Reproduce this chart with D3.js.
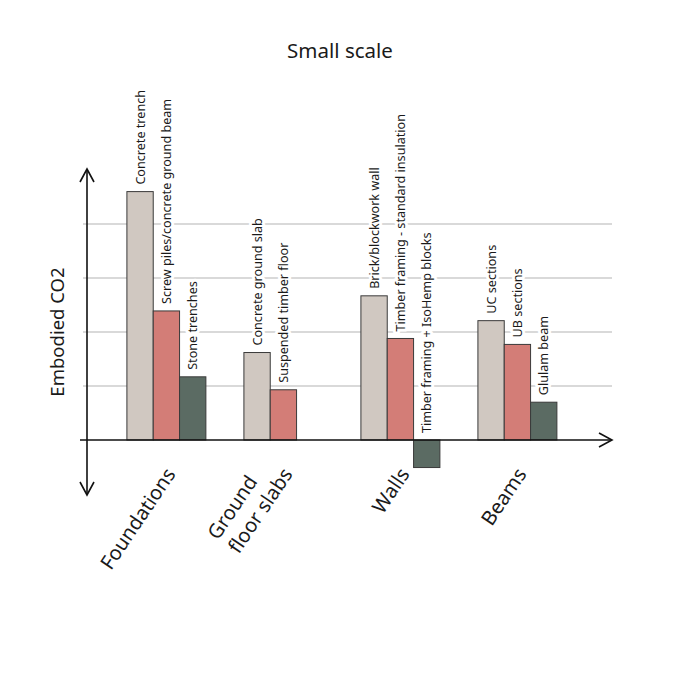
<!DOCTYPE html>
<html>
<head>
<meta charset="utf-8">
<script src="https://cdn.jsdelivr.net/npm/d3@7"></script>
<style>
  html, body { margin: 0; padding: 0; background: #fff; }
  svg { display: block; }
  text { font-family: "Noto Sans", "Open Sans", sans-serif; fill: #1a1a1a; }
</style>
</head>
<body>
<svg id="chart" width="680" height="680"></svg>
<script>
// ---- data ----
const title = "Small scale";
const yAxisLabel = "Embodied CO2";
const categories = ["Foundations", "Ground floor slabs", "Walls", "Beams"];
const categoryLines = [["Foundations"], ["Ground", "floor slabs"], ["Walls"], ["Beams"]];
const foundationsLabels = ["Concrete trench", "Screw piles/concrete ground beam", "Stone trenches"];
const foundationsValues = [4.6, 2.39, 1.17];
const slabsLabels = ["Concrete ground slab", "Suspended timber floor"];
const slabsValues = [1.62, 0.93];
const wallsLabels = ["Brick/blockwork wall", "Timber framing - standard insulation", "Timber framing + IsoHemp blocks"];
const wallsValues = [2.67, 1.88, -0.51];
const beamsLabels = ["UC sections", "UB sections", "Glulam beam"];
const beamsValues = [2.21, 1.77, 0.70];
const gridValues = [1, 2, 3, 4];
const slotColors = ["#d0c8c1", "#d37d77", "#5b6b63"];

const groupLabels = [foundationsLabels, slabsLabels, wallsLabels, beamsLabels];
const groupValues = [foundationsValues, slabsValues, wallsValues, beamsValues];

// ---- layout ----
const svg = d3.select("#chart");
const xLeft = 87, xRight = 612;

const x = d3.scaleBand()
  .domain(categories)
  .range([xLeft, xRight])
  .paddingInner(0.325)
  .paddingOuter(0.406)
  .align(0.42);

const xSlot = d3.scaleBand()
  .domain([0, 1, 2])
  .range([0, x.bandwidth()])
  .padding(0);

const y = d3.scaleLinear().domain([-1, 5]).range([494, 170]);
const y0 = y(0);

// title
svg.append("text")
  .attr("x", 340).attr("y", 58)
  .attr("text-anchor", "middle")
  .attr("font-size", 20.5)
  .text(title);

// y label
svg.append("text")
  .attr("transform", `translate(64,${(y(1) + y(3)) / 2}) rotate(-90)`)
  .attr("text-anchor", "middle")
  .attr("font-size", 18.5)
  .text(yAxisLabel);

// gridlines
svg.append("g")
  .selectAll("line")
  .data(gridValues)
  .join("line")
  .attr("x1", 83).attr("x2", xRight)
  .attr("y1", d => y(d)).attr("y2", d => y(d))
  .attr("stroke", "#b3b3b3")
  .attr("stroke-width", 1.2);

// flatten bars
const bars = [];
groupValues.forEach((vals, gi) => {
  vals.forEach((v, si) => {
    bars.push({ cat: categories[gi], slot: si, value: v, label: groupLabels[gi][si] });
  });
});

// bar labels (with white halo) drawn before bars
svg.append("g")
  .selectAll("text")
  .data(bars)
  .join("text")
  .attr("transform", d => {
    const cx = x(d.cat) + xSlot(d.slot) + xSlot.bandwidth() / 2;
    const top = Math.min(y(d.value), y0) - 7;
    return `translate(${cx},${top}) rotate(-90)`;
  })
  .attr("dy", "0.36em")
  .attr("text-anchor", "start")
  .attr("font-size", 12.6)
  .attr("stroke", "#fff")
  .attr("stroke-width", 6)
  .attr("stroke-linejoin", "round")
  .attr("paint-order", "stroke")
  .text(d => d.label);

// bars
svg.append("g")
  .selectAll("rect")
  .data(bars)
  .join("rect")
  .attr("x", d => x(d.cat) + xSlot(d.slot))
  .attr("width", xSlot.bandwidth())
  .attr("y", d => Math.min(y(d.value), y0))
  .attr("height", d => Math.abs(y(d.value) - y0))
  .attr("fill", d => slotColors[d.slot])
  .attr("stroke", "#3a3a3a")
  .attr("stroke-width", 1);

// axes
const axisG = svg.append("g").attr("stroke", "#111").attr("stroke-width", 1.6).attr("fill", "none");
axisG.append("line").attr("x1", 80).attr("x2", xRight).attr("y1", y0).attr("y2", y0);
axisG.append("line").attr("x1", xLeft).attr("x2", xLeft).attr("y1", y(5) - 1).attr("y2", y(-1) + 1);
// arrowheads
const ah = 7, al = 13;
axisG.append("path").attr("d", `M${xLeft - ah},${y(5) - 1 + al} L${xLeft},${y(5) - 1} L${xLeft + ah},${y(5) - 1 + al}`);
axisG.append("path").attr("d", `M${xLeft - ah},${y(-1) + 1 - al} L${xLeft},${y(-1) + 1} L${xLeft + ah},${y(-1) + 1 - al}`);
axisG.append("path").attr("d", `M${xRight - al},${y0 - ah} L${xRight},${y0} L${xRight - al},${y0 + ah}`);

// category labels
const catG = svg.append("g")
  .selectAll("g")
  .data(categories)
  .join("g")
  .attr("transform", d => `translate(${x(d) + x.bandwidth() / 2 + 10},${y0 + 34}) rotate(-56)`);

catG.each(function(d, i) {
  const g = d3.select(this);
  const lines = categoryLines[i];
  const n = lines.length;
  const texts = lines.map((line, li) =>
    g.append("text")
      .attr("x", 0)
      .attr("y", (li - (n - 1)) * 25)
      .attr("font-size", 20)
      .attr("text-anchor", "start")
      .text(line)
  );
  const w = d3.max(texts, t => t.node().getComputedTextLength());
  texts.forEach(t => t.attr("x", -w));
});
</script>
</body>
</html>
